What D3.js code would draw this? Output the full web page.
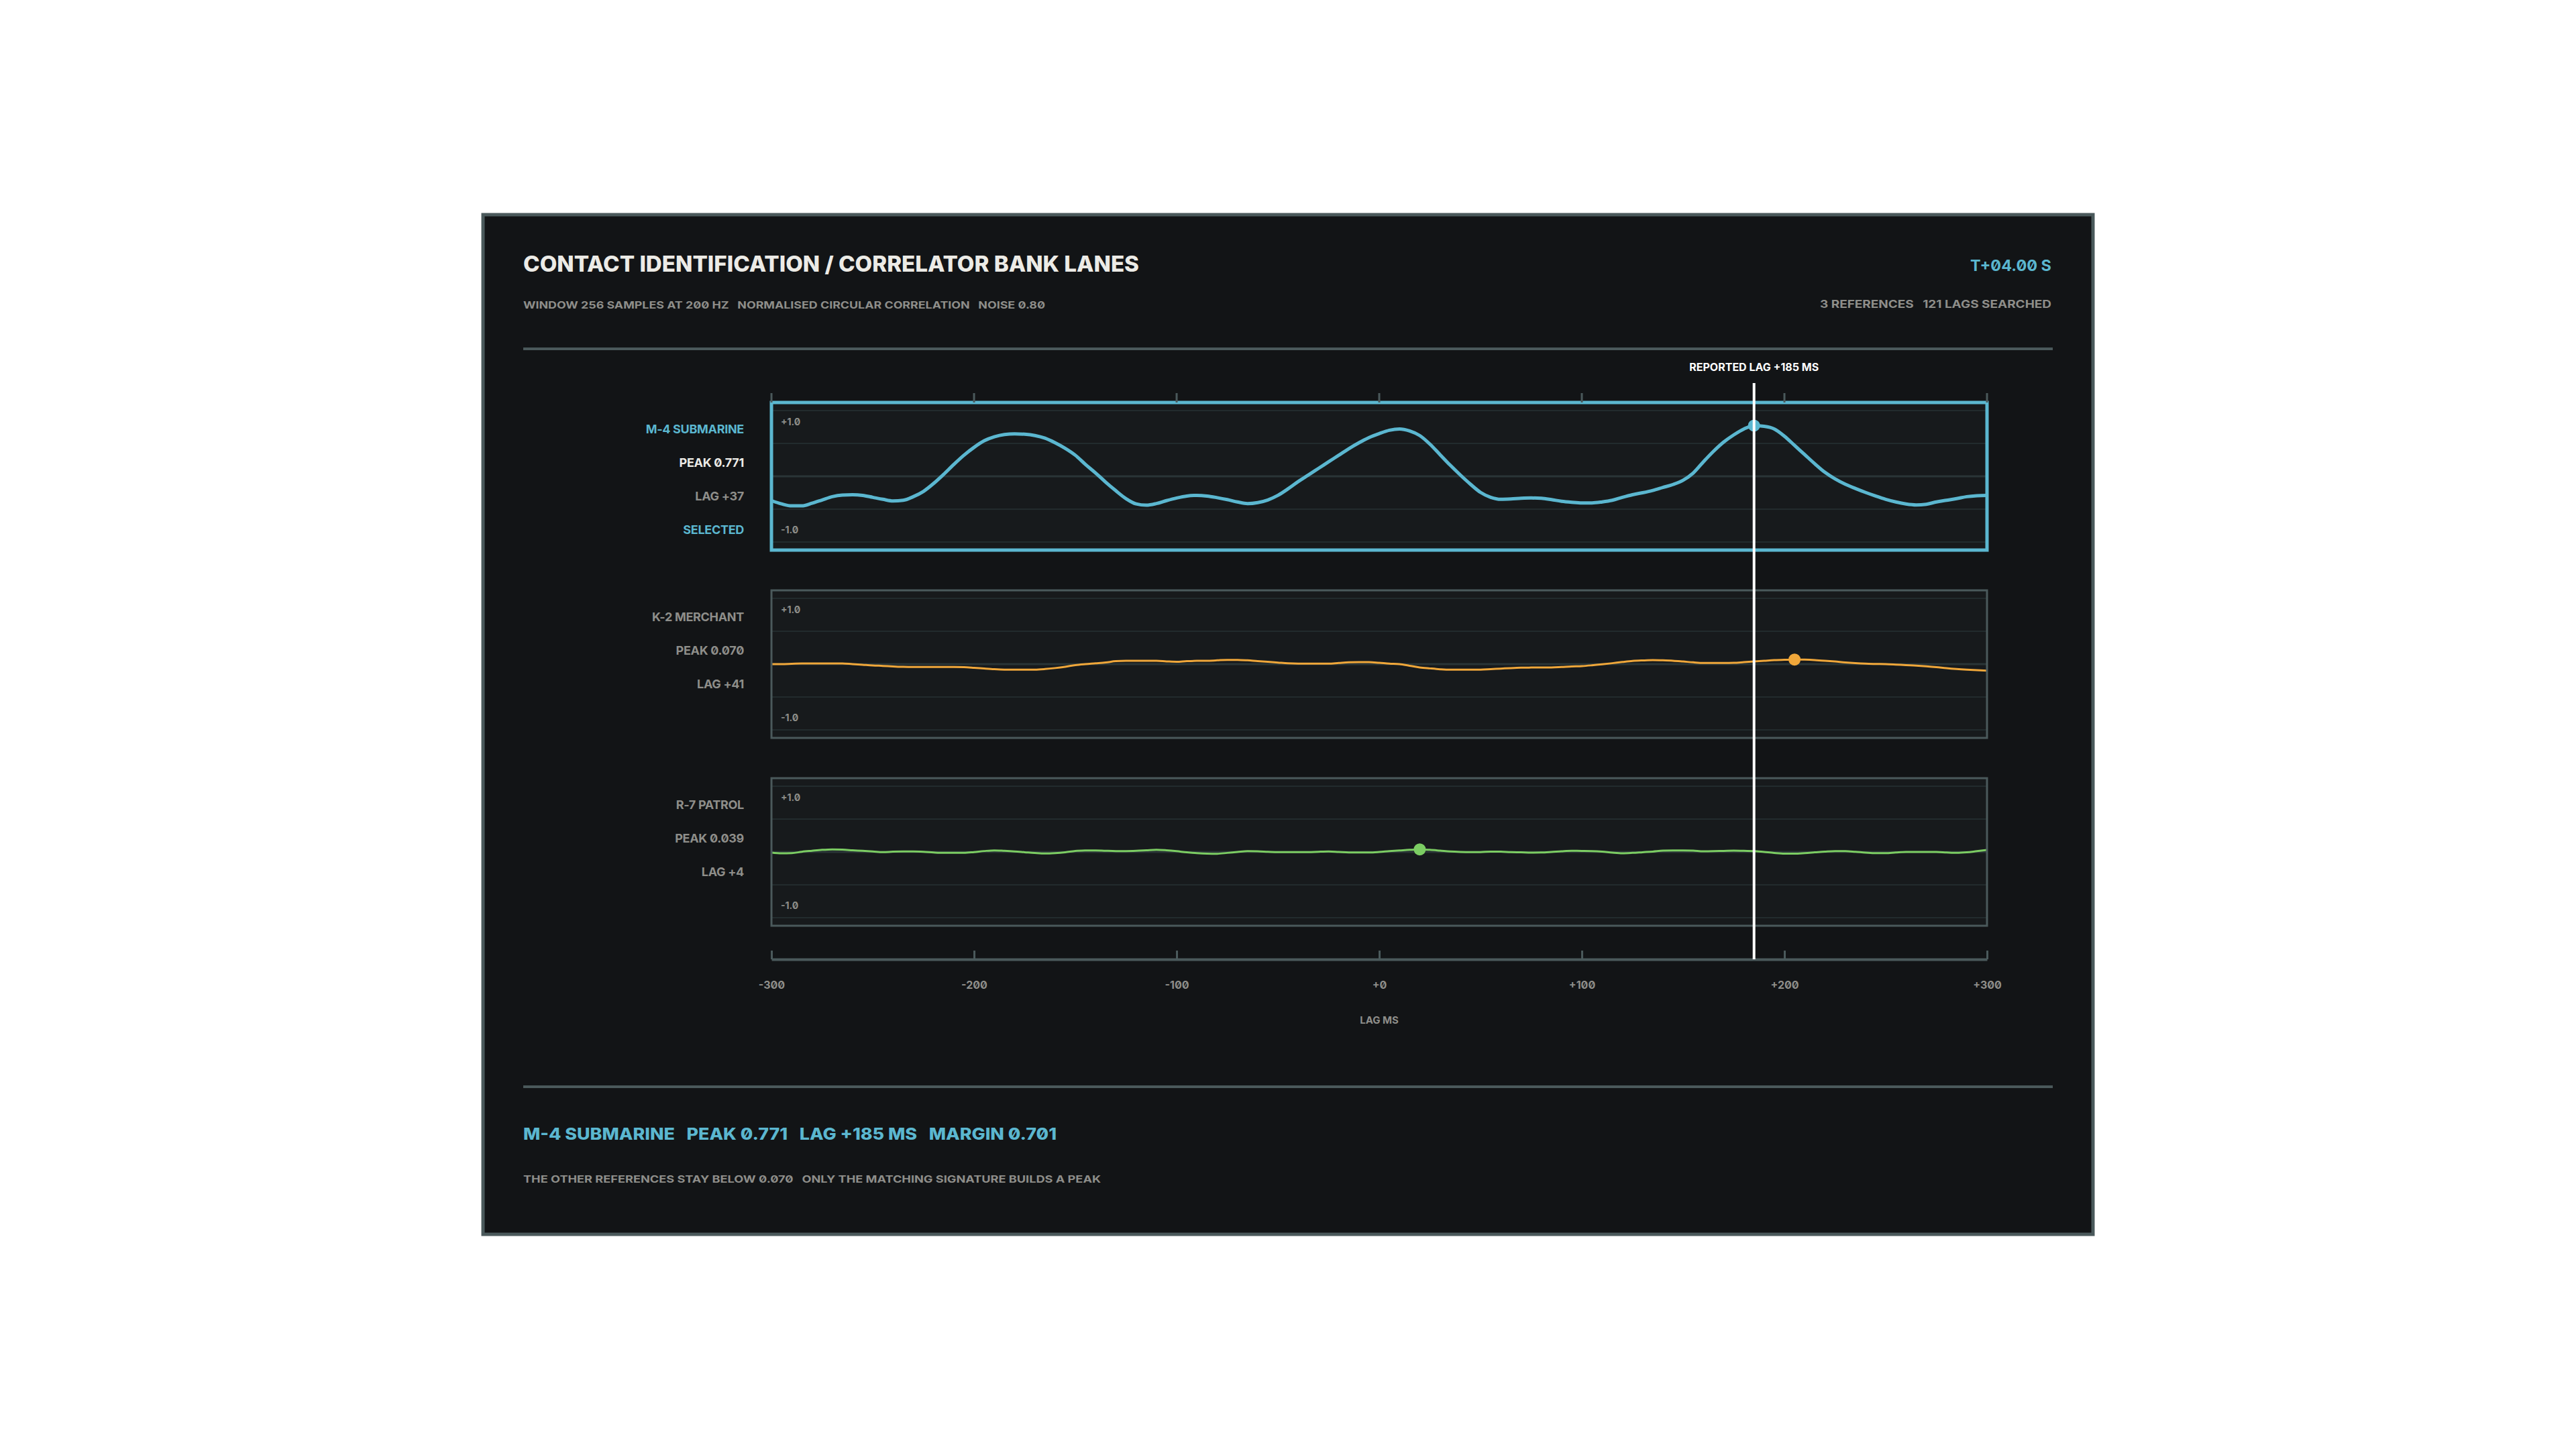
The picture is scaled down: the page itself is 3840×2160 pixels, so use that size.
<!DOCTYPE html>
<html>
<head>
<meta charset="utf-8">
<script src="https://cdn.jsdelivr.net/npm/d3@7"></script>
<style>
  html, body { margin: 0; padding: 0; background: #ffffff; }
  svg { display: block; }
  text { font-family: Inter, "Noto Sans", sans-serif; font-weight: 700; font-feature-settings: "zero" 1; }
  .heavy { font-weight: 800; }
</style>
</head>
<body>
<svg id="chart" width="3840" height="2160"></svg>
<script>
// sampling grid: 121 lags at 5 ms (200 Hz)
var lags = d3.range(-300, 301, 5);

var laneNames = ["M-4 SUBMARINE", "K-2 MERCHANT", "R-7 PATROL"];
var laneColors = ["#5bb7d0", "#f0a73a", "#7ccd63"];
var peakValues = [0.771, 0.070, 0.039];
var peakLagIdx = [37, 41, 4];

var m4Values = [
  -0.37, -0.42, -0.45, -0.45, -0.41, -0.36, -0.31, -0.285, -0.28, -0.29,
  -0.32, -0.35, -0.375, -0.365, -0.31, -0.23, -0.11, 0.03, 0.18, 0.32,
  0.44, 0.54, 0.60, 0.635, 0.646, 0.64, 0.62, 0.58, 0.51, 0.425,
  0.32, 0.18, 0.05, -0.09, -0.22, -0.34, -0.42, -0.44, -0.415, -0.37,
  -0.33, -0.30, -0.29, -0.30, -0.325, -0.355, -0.39, -0.415, -0.40, -0.36,
  -0.29, -0.19, -0.08, 0.02, 0.12, 0.22, 0.32, 0.42, 0.51, 0.59,
  0.65, 0.70, 0.72, 0.69, 0.62, 0.49, 0.33, 0.17, 0.02, -0.12,
  -0.245, -0.32, -0.35, -0.345, -0.335, -0.33, -0.335, -0.355, -0.38, -0.395,
  -0.405, -0.405, -0.39, -0.365, -0.32, -0.28, -0.25, -0.215, -0.17, -0.125,
  -0.06, 0.05, 0.22, 0.38, 0.52, 0.63, 0.72, 0.771, 0.76, 0.72,
  0.61, 0.47, 0.33, 0.19, 0.06, -0.04, -0.12, -0.185, -0.245, -0.30,
  -0.35, -0.39, -0.42, -0.435, -0.425, -0.39, -0.365, -0.34, -0.31, -0.295,
  -0.29
];
var k2Values = [
  0.00, 0.00, 0.005, 0.01, 0.01, 0.01, 0.01, 0.01, 0.00, -0.01,
  -0.02, -0.027, -0.035, -0.042, -0.044, -0.044, -0.044, -0.044, -0.044, -0.046,
  -0.055, -0.066, -0.076, -0.083, -0.085, -0.085, -0.084, -0.075, -0.06, -0.04,
  -0.015, 0.0, 0.012, 0.025, 0.045, 0.05, 0.05, 0.05, 0.05, 0.042,
  0.036, 0.046, 0.05, 0.05, 0.058, 0.065, 0.065, 0.058, 0.046, 0.036,
  0.024, 0.012, 0.007, 0.007, 0.007, 0.007, 0.018, 0.028, 0.03, 0.03,
  0.02, 0.008, 0.0, -0.025, -0.05, -0.065, -0.078, -0.085, -0.085, -0.085,
  -0.084, -0.076, -0.068, -0.06, -0.054, -0.052, -0.051, -0.05, -0.043, -0.035,
  -0.03, -0.018, -0.003, 0.014, 0.032, 0.048, 0.056, 0.061, 0.058, 0.052,
  0.04, 0.027, 0.017, 0.017, 0.017, 0.02, 0.03, 0.04, 0.05, 0.06,
  0.066, 0.070, 0.068, 0.062, 0.052, 0.04, 0.026, 0.015, 0.007, 0.003,
  0.0, -0.007, -0.015, -0.022, -0.032, -0.045, -0.062, -0.075, -0.085, -0.093,
  -0.10
];
var r7Values = [
  -0.01, -0.02, -0.018, 0.003, 0.018, 0.032, 0.039, 0.035, 0.026, 0.017,
  0.008, -0.003, 0.004, 0.007, 0.007, 0.002, -0.008, -0.014, -0.014, -0.014,
  -0.002, 0.014, 0.024, 0.017, 0.008, -0.004, -0.016, -0.024, -0.018, -0.005,
  0.015, 0.022, 0.024, 0.018, 0.014, 0.014, 0.018, 0.026, 0.034, 0.026,
  0.012, -0.006, -0.018, -0.025, -0.027, -0.014, 0.0, 0.013, 0.01, 0.003,
  -0.003, -0.003, -0.003, -0.003, 0.003, 0.007, 0.0, -0.007, -0.007, -0.007,
  0.0, 0.012, 0.022, 0.032, 0.039, 0.032, 0.02, 0.007, 0.0, -0.003,
  -0.002, 0.006, 0.004, -0.003, -0.006, -0.01, -0.008, 0.0, 0.01, 0.017,
  0.016, 0.014, 0.006, -0.01, -0.02, -0.014, -0.004, 0.006, 0.02, 0.024,
  0.024, 0.02, 0.01, 0.012, 0.016, 0.02, 0.017, 0.014, 0.0, -0.015,
  -0.025, -0.026, -0.018, -0.006, 0.006, 0.014, 0.012, 0.002, -0.01, -0.019,
  -0.018, -0.008, 0.0, 0.0, 0.0, 0.0, -0.008, -0.014, -0.006, 0.012,
  0.03
];
var laneSeries = [m4Values, k2Values, r7Values];

var xTicks = [-300, -200, -100, 0, 100, 200, 300];
var reportedLag = 185;
var selectedLane = 0;

var svg = d3.select("#chart");
var panelBg = "#121416", laneBg = "#171a1c", frameCol = "#4a595b";
var textLight = "#ecebe6", textGray = "#8e8e8a";

// frame
svg.append("rect").attr("x", 720).attr("y", 320).attr("width", 2400).attr("height", 1520)
  .attr("fill", panelBg).attr("stroke", frameCol).attr("stroke-width", 5);

// header
svg.append("text").attr("class", "heavy").attr("x", 780).attr("y", 405).attr("font-size", 32).attr("fill", textLight)
  .attr("textLength", 918).attr("lengthAdjust", "spacingAndGlyphs")
  .text("CONTACT IDENTIFICATION / CORRELATOR BANK LANES");
svg.append("text").attr("x", 780).attr("y", 460).attr("font-size", 15).attr("fill", textGray)
  .attr("textLength", 778).attr("lengthAdjust", "spacingAndGlyphs").attr("xml:space", "preserve")
  .text("WINDOW 256 SAMPLES AT 200 HZ   NORMALISED CIRCULAR CORRELATION   NOISE 0.80");
svg.append("text").attr("x", 3058).attr("y", 404).attr("font-size", 23).attr("fill", laneColors[0])
  .attr("text-anchor", "end").attr("textLength", 121).attr("lengthAdjust", "spacingAndGlyphs")
  .text("T+04.00 S");
svg.append("text").attr("x", 3058).attr("y", 459).attr("font-size", 16).attr("fill", textGray)
  .attr("text-anchor", "end").attr("xml:space", "preserve")
  .attr("textLength", 345).attr("lengthAdjust", "spacingAndGlyphs")
  .text("3 REFERENCES   121 LAGS SEARCHED");
svg.append("line").attr("x1", 780).attr("x2", 3060).attr("y1", 520).attr("y2", 520)
  .attr("stroke", frameCol).attr("stroke-width", 4);

// scales
var x = d3.scaleLinear().domain([-300, 300]).range([1150, 2962]);
var laneTop = [600, 880, 1160], laneH = 220, pad = 12;

laneSeries.forEach(function(values, i) {
  var top = laneTop[i];
  var y = d3.scaleLinear().domain([-1, 1]).range([top + laneH - pad, top + pad]);
  var g = svg.append("g");
  var sel = i === selectedLane;

  g.append("rect").attr("x", x(-300)).attr("y", top).attr("width", x(300) - x(-300)).attr("height", laneH)
    .attr("fill", laneBg);
  g.selectAll(".grid").data([-1, -0.5, 0, 0.5, 1]).enter().append("line")
    .attr("x1", x(-300)).attr("x2", x(300))
    .attr("y1", function(d) { return y(d); }).attr("y2", function(d) { return y(d); })
    .attr("stroke", function(d) { return d === 0 ? "#2a3537" : "#222b2d"; })
    .attr("stroke-width", function(d) { return d === 0 ? 3 : 2; });
  g.append("text").attr("x", x(-300) + 14).attr("y", top + 34)
    .attr("font-size", 14).attr("fill", textGray).text("+1.0");
  g.append("text").attr("x", x(-300) + 14).attr("y", top + 195)
    .attr("font-size", 14).attr("fill", textGray).text("-1.0");

  var line = d3.line().x(function(d, k) { return x(lags[k]); }).y(function(d) { return y(d); })
    .curve(d3.curveMonotoneX);
  g.append("path").datum(values).attr("d", line).attr("fill", "none")
    .attr("stroke", laneColors[i]).attr("stroke-width", sel ? 5 : 3)
    .attr("stroke-linejoin", "round");

  g.append("rect").attr("x", x(-300)).attr("y", top).attr("width", x(300) - x(-300)).attr("height", laneH)
    .attr("fill", "none").attr("stroke", sel ? laneColors[i] : frameCol).attr("stroke-width", sel ? 5 : 3);

  g.append("circle").attr("cx", x(peakLagIdx[i] * 5)).attr("cy", y(peakValues[i])).attr("r", 9)
    .attr("fill", laneColors[i]);

  // left labels
  var labels = [
    { t: laneNames[i], c: sel ? laneColors[i] : textGray },
    { t: "PEAK " + peakValues[i].toFixed(3), c: sel ? textLight : textGray },
    { t: "LAG " + (peakLagIdx[i] >= 0 ? "+" : "") + peakLagIdx[i], c: textGray }
  ];
  if (sel) labels.push({ t: "SELECTED", c: laneColors[i] });
  g.selectAll(".lbl").data(labels).enter().append("text")
    .attr("x", 1109).attr("y", function(d, k) { return top + 46 + k * 50; })
    .attr("text-anchor", "end").attr("font-size", 18).attr("letter-spacing", -0.3)
    .attr("fill", function(d) { return d.c; }).text(function(d) { return d.t; });
});

// top ticks
svg.selectAll(".ttick").data(xTicks).enter().append("line")
  .attr("x1", function(d) { return x(d); }).attr("x2", function(d) { return x(d); })
  .attr("y1", 586).attr("y2", 600).attr("stroke", frameCol).attr("stroke-width", 3);

// bottom axis
var axis = svg.append("g").attr("transform", "translate(0,1430)")
  .call(d3.axisBottom(x).tickValues(xTicks).tickSize(0)
    .tickFormat(function(d) { return (d >= 0 ? "+" : "") + d; }));
axis.select(".domain").attr("stroke", frameCol).attr("stroke-width", 4);
axis.selectAll(".tick text").attr("font-size", 16).attr("fill", textGray)
  .attr("dy", 0).attr("y", 44).style("font-family", "Inter, sans-serif").style("font-weight", 700);
axis.selectAll(".tick").append("line").attr("y1", -13).attr("y2", 0)
  .attr("stroke", frameCol).attr("stroke-width", 3);
svg.append("text").attr("x", x(0)).attr("y", 1526).attr("text-anchor", "middle")
  .attr("font-size", 15).attr("fill", textGray).text("LAG MS");

// reported lag marker
svg.append("line").attr("x1", x(reportedLag)).attr("x2", x(reportedLag)).attr("y1", 571).attr("y2", 1430)
  .attr("stroke", "#ffffff").attr("stroke-width", 4);
svg.append("text").attr("x", x(reportedLag)).attr("y", 553).attr("text-anchor", "middle")
  .attr("font-size", 16).attr("fill", "#ffffff").text("REPORTED LAG +" + reportedLag + " MS");

// footer
svg.append("line").attr("x1", 780).attr("x2", 3060).attr("y1", 1620).attr("y2", 1620)
  .attr("stroke", frameCol).attr("stroke-width", 4);
svg.append("text").attr("class", "heavy").attr("x", 780).attr("y", 1699).attr("font-size", 24).attr("fill", laneColors[0])
  .attr("xml:space", "preserve").attr("textLength", 795).attr("lengthAdjust", "spacingAndGlyphs")
  .text(laneNames[0] + "   PEAK " + peakValues[0].toFixed(3) + "   LAG +" + reportedLag + " MS   MARGIN " +
    (peakValues[0] - peakValues[1]).toFixed(3));
svg.append("text").attr("x", 780).attr("y", 1763).attr("font-size", 15).attr("fill", textGray)
  .attr("xml:space", "preserve").attr("textLength", 861).attr("lengthAdjust", "spacingAndGlyphs")
  .text("THE OTHER REFERENCES STAY BELOW " + peakValues[1].toFixed(3) + "   ONLY THE MATCHING SIGNATURE BUILDS A PEAK");
</script>
</body>
</html>
